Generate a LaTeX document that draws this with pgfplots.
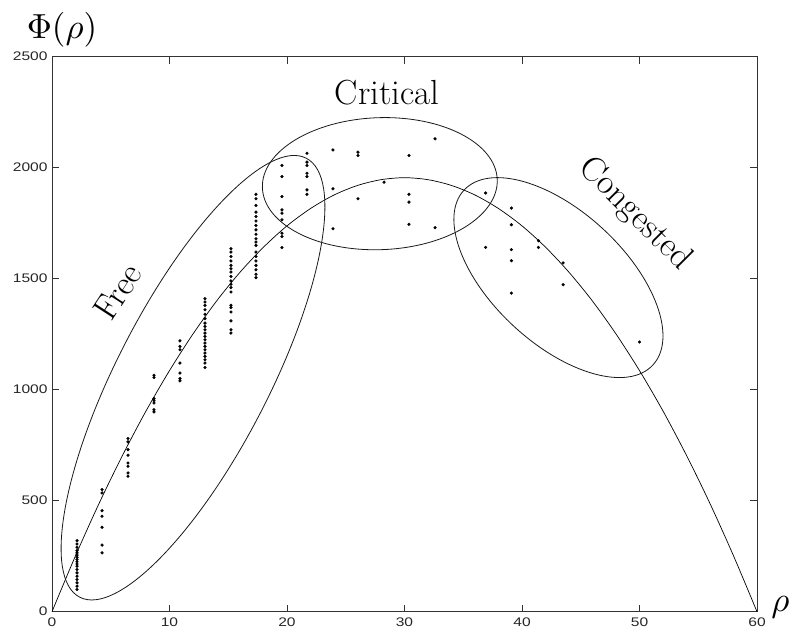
\documentclass[border=0pt]{standalone}
\usepackage{fontspec}
\usepackage{graphicx}
\usepackage{pgfplots}
\pgfplotsset{compat=1.18}
\newfontfamily\tickfont[FakeStretch=1.25]{Liberation Sans}
\newcommand\bigtxt{\fontsize{35}{40}\selectfont}
\newcommand\bigmath[1]{\scalebox{3.5}{$#1$}}

\begin{document}
\begin{tikzpicture}
\useasboundingbox (-52bp,-30bp) rectangle (741bp,611.7bp);
\begin{axis}[
  at={(0,0)}, anchor=south west,
  scale only axis, width=705bp, height=555bp,
  xmin=0, xmax=60, ymin=0, ymax=2500,
  xtick={0,10,...,60}, ytick={0,500,...,2500},
  tick align=inside, major tick length=7bp,
  axis line style={line width=0.9bp, black!80},
  every tick/.style={line width=0.7bp, black!80},
  ticklabel style={font=\tickfont\fontsize{12.5}{14}\selectfont, text=black!85},
  xticklabel style={yshift=-3bp},
  yticklabel style={xshift=-1bp},
  /pgf/number format/assume math mode=true,
  /pgf/number format/set thousands separator={},
  clip=false,
]
% fitted curve
\addplot[black, line width=0.7bp, smooth] coordinates {
(0,0)(2,252)(4,487)(6,704)(8,904)(10,1086)(12,1251)(14,1399)(16,1529)
(18,1642)(20,1738)(22,1816)(24,1877)(26,1920)(28,1946)(30,1955)
(32,1946)(34,1920)(36,1877)(38,1816)(40,1738)(42,1642)(44,1529)
(46,1399)(48,1251)(50,1086)(52,904)(54,704)(56,487)(58,252)(60,0)
};
% measurements
\addplot[only marks, mark=*, mark size=1.4bp, black] coordinates {
(2.13,100)(2.13,115)(2.13,130)(2.13,145)(2.13,160)(2.13,175)(2.13,190)(2.13,205)(2.13,215)
(2.13,225)(2.13,235)(2.13,245)(2.13,255)(2.13,265)(2.13,275)(2.13,290)(2.13,305)(2.13,320)
(4.26,550)(4.26,535)(4.26,455)(4.26,430)(4.26,380)(4.26,300)(4.26,265)
(6.47,780)(6.47,765)(6.47,730)(6.47,705)(6.47,670)(6.47,655)(6.47,625)(6.47,610)
(8.68,1065)(8.68,1055)(8.68,960)(8.68,950)(8.68,940)(8.68,910)(8.68,900)
(10.89,1220)(10.89,1195)(10.89,1180)(10.89,1120)(10.89,1075)(10.89,1050)(10.89,1040)
(13.02,1410)(13.02,1395)(13.02,1380)(13.02,1360)(13.02,1340)(13.02,1320)(13.02,1300)
(13.02,1285)(13.02,1270)(13.02,1255)(13.02,1240)(13.02,1225)(13.02,1210)(13.02,1195)
(13.02,1180)(13.02,1165)(13.02,1150)(13.02,1135)(13.02,1120)(13.02,1100)
(15.23,1635)(15.23,1620)(15.23,1600)(15.23,1580)(15.23,1560)(15.23,1545)(15.23,1530)
(15.23,1510)(15.23,1490)(15.23,1475)(15.23,1460)(15.23,1440)(15.23,1380)(15.23,1370)
(15.23,1350)(15.23,1310)(15.23,1270)(15.23,1255)
(17.36,1880)(17.36,1860)(17.36,1830)(17.36,1800)(17.36,1780)(17.36,1760)(17.36,1740)
(17.36,1720)(17.36,1700)(17.36,1680)(17.36,1665)(17.36,1650)(17.36,1620)(17.36,1600)
(17.36,1580)(17.36,1560)(17.36,1540)(17.36,1520)(17.36,1505)
(19.57,2010)(19.57,1960)(19.57,1870)(19.57,1810)(19.57,1795)(19.57,1765)(19.57,1705)
(19.57,1690)(19.57,1640)
(21.70,2065)(21.70,2025)(21.70,2010)(21.70,1975)(21.70,1960)(21.70,1900)(21.70,1880)
(23.91,2080)(23.91,1905)(23.91,1725)
(26.04,2070)(26.04,2055)(26.04,1860)
(28.26,1935)
(30.38,2055)(30.38,1880)(30.38,1845)(30.38,1745)
(32.6,2130)(32.6,1730)
(36.9,1886)(36.9,1641)
(39.1,1818)(39.1,1743)(39.1,1631)(39.1,1581)(39.1,1435)
(41.4,1671)(41.4,1641)
(43.5,1571)(43.5,1473)
(50.0,1215)
};
% regime ellipses
\draw[line width=0.8bp, black!90, rotate around={62.7:(axis cs:12,1054)}]
  (axis cs:12,1054) ellipse [x radius=247bp, y radius=76bp];
\draw[line width=0.8bp, black!90, rotate around={2:(axis cs:27.9,1928)}]
  (axis cs:27.9,1928) ellipse [x radius=117.5bp, y radius=66bp];
\draw[line width=0.8bp, black!90, rotate around={-42.8:(axis cs:43.1,1505)}]
  (axis cs:43.1,1505) ellipse [x radius=128.7bp, y radius=66bp];
% labels
\node[anchor=base, inner sep=0pt] at (axis cs:0.85,2580) {\bigmath{\Phi(\rho)}};
\node[anchor=base, inner sep=0pt] at (axis cs:62,0) {\bigmath{\rho}};
\node[anchor=base, font=\bigtxt] at (axis cs:28.5,2284) {Critical};
\node[anchor=center, rotate=57, font=\bigtxt, inner sep=0pt] at (axis cs:5.6,1441) {Free};
\node[anchor=center, rotate=-45, font=\bigtxt, inner sep=0pt] at (axis cs:49.6,1790) {Congested};
\end{axis}
\end{tikzpicture}
\end{document}
